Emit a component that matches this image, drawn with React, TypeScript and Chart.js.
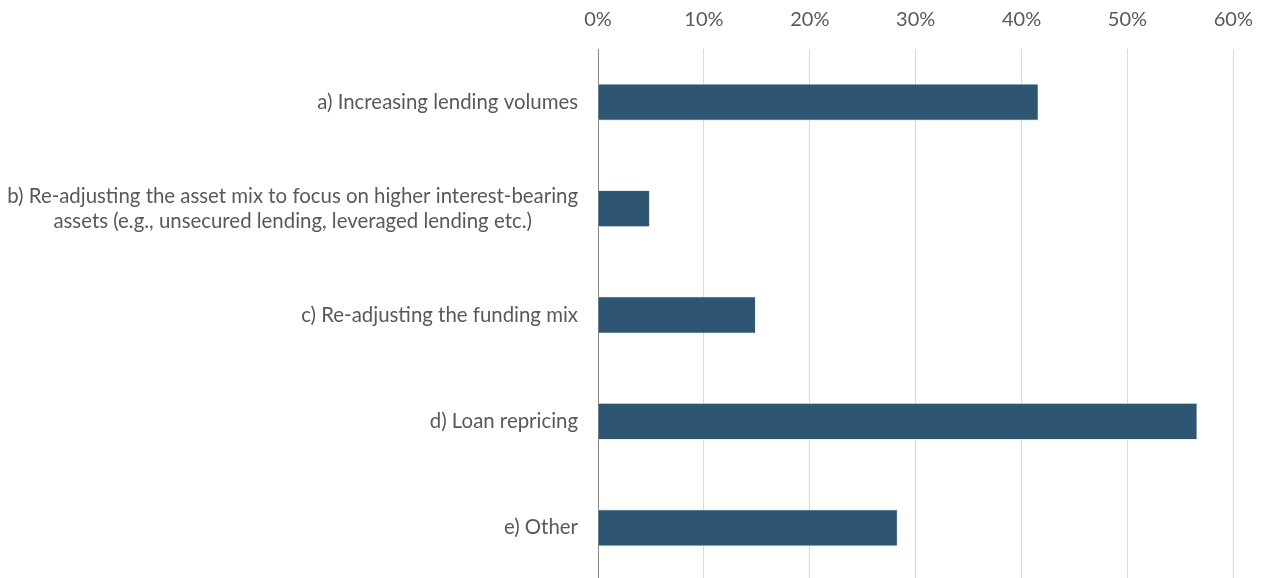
import React, { useEffect, useRef } from "react";
import { Chart, registerables } from "chart.js";

Chart.register(...registerables);

const categories: string[][] = [
  ["a) Increasing lending volumes"],
  [
    "b) Re-adjusting the asset mix to focus on higher interest-bearing",
    "assets (e.g., unsecured lending, leveraged lending etc.)",
  ],
  ["c) Re-adjusting the funding mix"],
  ["d) Loan repricing"],
  ["e) Other"],
];
const values: number[] = [41.6, 4.9, 14.9, 56.6, 28.3];
const xTicks: number[] = [0, 10, 20, 30, 40, 50, 60];

const FONT = "Lato";
const TEXT = "#595959";

const labelPlugin = {
  id: "rightLabels",
  afterDraw(chart: any) {
    const ctx = chart.ctx;
    const yScale = chart.scales.y;
    const right = chart.chartArea.left - 20;
    const lineH = 25;
    ctx.save();
    ctx.font = `20.4px ${FONT}`;
    ctx.fillStyle = TEXT;
    ctx.textAlign = "center";
    ctx.textBaseline = "middle";
    categories.forEach((lines, i) => {
      const y = yScale.getPixelForValue(i);
      const widest = Math.max(...lines.map((l) => ctx.measureText(l).width));
      const cx = right - widest / 2;
      const startY = y - ((lines.length - 1) * lineH) / 2;
      lines.forEach((l, j) => ctx.fillText(l, cx, startY + j * lineH));
    });
    ctx.restore();
  },
};

const CANVAS_W = 1270;
const CANVAS_H = 590;

export default function App() {
  const ref = useRef<HTMLCanvasElement>(null);
  useEffect(() => {
    if (!ref.current) return;
    const chart = new Chart(ref.current, {
      type: "bar",
      data: {
        labels: categories.map((c) => c.join(" ")),
        datasets: [
          {
            data: values,
            backgroundColor: "#2E5673",
            borderColor: "#dfe7ee",
            borderWidth: 0.8,
            borderSkipped: "start",
            barPercentage: 0.347,
            categoryPercentage: 1,
          },
        ],
      },
      options: {
        indexAxis: "y",
        animation: false,
        responsive: false,
        maintainAspectRatio: false,
        layout: { padding: { left: 598, right: 23, top: -9, bottom: 9 } },
        plugins: { legend: { display: false }, tooltip: { enabled: false } },
        scales: {
          x: {
            position: "top",
            min: 0,
            max: 60,
            afterBuildTicks: (scale: any) => {
              scale.ticks = xTicks.map((v) => ({ value: v }));
            },
            ticks: {
              callback: (v: any) => `${v}%`,
              color: TEXT,
              font: { family: FONT, size: 20 },
              padding: 17,
            },
            grid: { color: "#d9d9d9", drawTicks: false, lineWidth: 1 },
            border: { display: false },
          },
          y: {
            ticks: { display: false },
            grid: { display: false, drawTicks: false },
            border: { display: true, color: "#868686", width: 1 },
          },
        },
      },
      plugins: [labelPlugin],
    });
    return () => chart.destroy();
  }, []);
  return (
    <div
      style={{
        position: "absolute",
        left: 0,
        top: 0,
        width: 1263,
        height: 578,
        overflow: "hidden",
      }}
    >
      <canvas ref={ref} width={CANVAS_W} height={CANVAS_H} style={{ display: "block" }} />
    </div>
  );
}
